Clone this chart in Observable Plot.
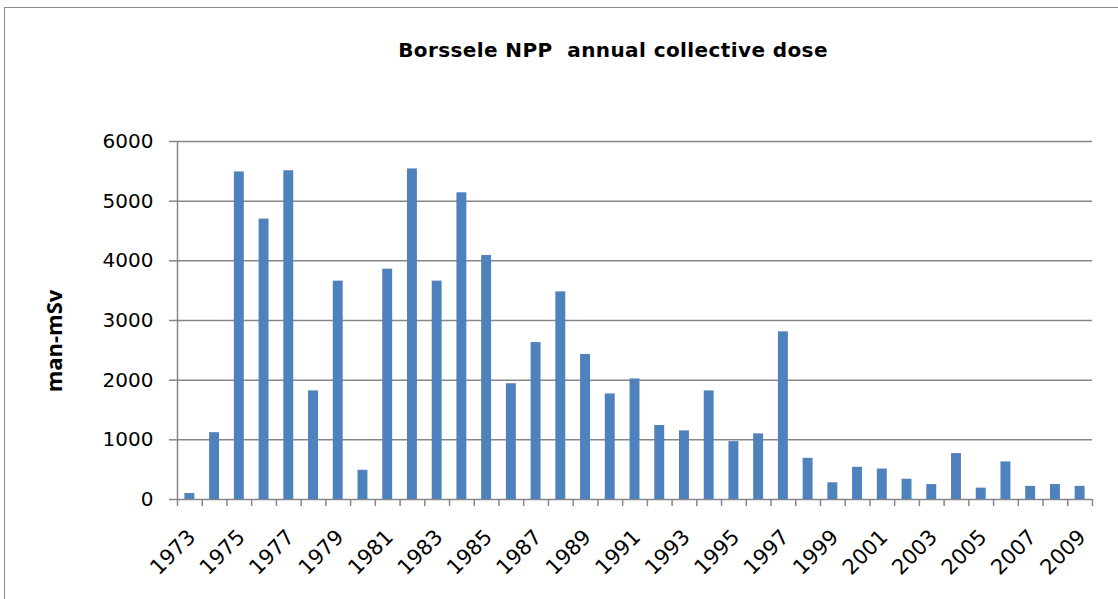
<!DOCTYPE html>
<html><head><meta charset="utf-8">
<script src="https://cdn.jsdelivr.net/npm/d3@7"></script>
<script src="https://cdn.jsdelivr.net/npm/@observablehq/plot@0.6"></script>
<style>
html,body{margin:0;padding:0;background:#fff;overflow:hidden;width:1118px;height:599px}
#wrap{position:relative;width:1118px;height:599px;font-family:"DejaVu Sans",sans-serif;overflow:hidden}
#frame{position:absolute;left:4px;top:7px;width:1300px;height:800px;border-left:1.5px solid #8a8a8a;border-top:1.5px solid #8a8a8a}
#title{position:absolute;left:313px;width:600px;top:39px;text-align:center;font-family:"DejaVu Sans",sans-serif;font-weight:bold;font-size:20px;letter-spacing:0.4px;line-height:22px;color:#000}
#ylab{position:absolute;left:53px;top:341px;transform:translate(-50%,-50%) rotate(-90deg);font-family:"Open Sans",sans-serif;font-weight:bold;font-size:22px;white-space:nowrap;color:#000}
#plot{position:absolute;left:0;top:0}
</style></head>
<body>
<div id="wrap">
  <div id="frame"></div>
  <div id="plot"></div>
  <div id="title">Borssele NPP&nbsp; annual collective dose</div>
  <div id="ylab">man-mSv</div>
</div>
<script>
const years = [1973,1974,1975,1976,1977,1978,1979,1980,1981,1982,1983,1984,1985,1986,1987,1988,1989,1990,1991,1992,1993,1994,1995,1996,1997,1998,1999,2000,2001,2002,2003,2004,2005,2006,2007,2008,2009];
const dose = [100,1120,5490,4700,5510,1820,3660,490,3860,5540,3660,5140,4090,1940,2630,3480,2430,1770,2020,1240,1150,1820,970,1100,2810,690,280,540,510,340,250,770,190,630,220,250,220];
const yTicks = [0,1000,2000,3000,4000,5000,6000];
const labelYears = [1973,1975,1977,1979,1981,1983,1985,1987,1989,1991,1993,1995,1997,1999,2001,2003,2005,2007,2009];

const data = years.map((y, i) => ({year: y, value: dose[i]}));
const bounds = years.map(y => y - 0.5).concat([years[years.length - 1] + 0.5]);
const gray = "#878787";

const chart = Plot.plot({
  width: 1118, height: 599,
  marginLeft: 177, marginRight: 26, marginTop: 141, marginBottom: 100,
  x: {type: "linear", domain: [bounds[0], bounds[bounds.length - 1]]},
  y: {domain: [0, 6000]},
  style: {fontFamily: "DejaVu Sans, sans-serif", fontSize: "20px", background: "transparent", color: "#000"},
  marks: [
    Plot.ruleY(yTicks, {stroke: gray, strokeWidth: 1.5}),
    Plot.rectY(data, {x1: d => d.year - 0.5, x2: d => d.year + 0.5, y: "value", fill: "#4F81BD", insetLeft: 7.4, insetRight: 7.4}),
    Plot.ruleX([bounds[0]], {stroke: gray, strokeWidth: 1.5}),
    Plot.axisY({ticks: yTicks, tickSize: 8, tickPadding: 16, stroke: gray, fill: "#000", strokeWidth: 1.5, label: null, tickFormat: d => String(d)}),
    Plot.axisX({ticks: bounds, tickSize: 7, stroke: gray, strokeWidth: 1.5, tickFormat: () => "", label: null}),
    Plot.axisX({ticks: labelYears, tickSize: 0, tickPadding: 34, dx: 2, fontSize: 21, tickRotate: -45, fill: "#000", label: null, tickFormat: d => String(d)})
  ]
});
document.getElementById("plot").appendChild(chart);
</script>
</body></html>
